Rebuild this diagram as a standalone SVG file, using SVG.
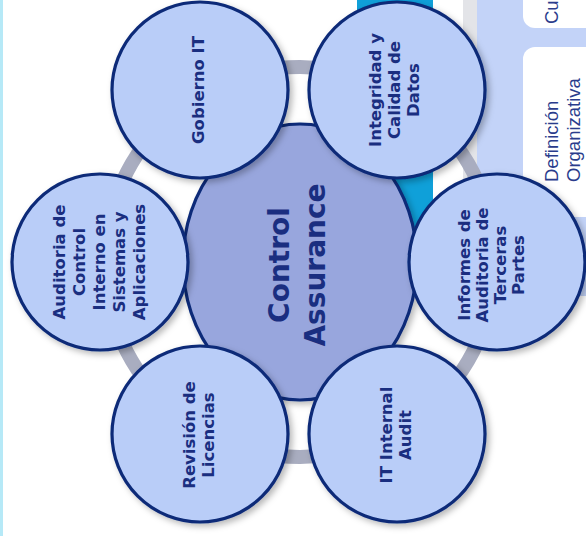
<svg xmlns="http://www.w3.org/2000/svg" width="586" height="536" viewBox="0 0 586 536">
<defs>
<filter id="sh" x="-20%" y="-20%" width="140%" height="140%">
<feDropShadow dx="3" dy="3" stdDeviation="3" flood-color="#000" flood-opacity="0.28"/>
</filter>
<style>
.sat{fill:#b9cdf8;stroke:#0b2a78;stroke-width:3.2;filter:url(#sh)}
.core{fill:#98a6dd;stroke:#0b2a78;stroke-width:3.2;filter:url(#sh)}
.t{font-family:"DejaVu Sans",sans-serif;font-weight:bold;font-size:16.5px;fill:#1a2e80;text-anchor:middle}
.big{font-family:"DejaVu Sans",sans-serif;font-weight:bold;font-size:28px;fill:#1a2e80;text-anchor:middle}
.p{font-family:"Liberation Sans",Arial,sans-serif;font-size:18.5px;fill:#2a3c8c}
</style>
</defs>
<rect width="586" height="536" fill="#ffffff"/>
<rect x="0" y="0" width="3" height="536" fill="#b6e9f7"/>
<g id="backdrop">
<rect x="357" y="0" width="76" height="260" fill="#0fa0d9"/>
<rect x="463" y="0" width="14" height="300" fill="#e3e4e8"/>
<rect x="477" y="-20" width="130" height="316" rx="10" fill="#c3d3f8"/>
<rect x="523" y="-30" width="90" height="58" rx="12" fill="#ffffff"/>
<rect x="523" y="47" width="90" height="170" rx="12" fill="#ffffff"/>
<text class="p" transform="translate(558,24) rotate(-90)">Cu</text>
<text class="p" transform="translate(558,182) rotate(-90)">Definición</text>
<text class="p" transform="translate(580,182) rotate(-90)">Organizativa</text>
</g>
<g id="connectors">
<circle cx="300" cy="262" r="195" fill="none" stroke="#a9adc0" stroke-width="14"/>
</g>
<g id="core">
<ellipse class="core" cx="300" cy="262" rx="117" ry="138"/>
<g transform="translate(300,265) rotate(-90)">
<text class="big" x="0" y="-11">Control</text>
<text class="big" x="0" y="25">Assurance</text>
</g>
</g>
<g id="gobierno">
<circle class="sat" cx="200" cy="90" r="88"/>
<g transform="translate(200,90) rotate(-90)"><text class="t" x="0" y="4">Gobierno IT</text></g>
</g>
<g id="integridad">
<circle class="sat" cx="397" cy="90" r="88"/>
<g transform="translate(397,90) rotate(-90)">
<text class="t" x="0" y="-16">Integridad y</text>
<text class="t" x="0" y="3">Calidad de</text>
<text class="t" x="0" y="22">Datos</text>
</g>
</g>
<g id="auditoria">
<circle class="sat" cx="100" cy="262" r="88"/>
<g transform="translate(100,262) rotate(-90)">
<text class="t" x="0" y="-35">Auditoria de</text>
<text class="t" x="0" y="-15">Control</text>
<text class="t" x="0" y="5">Interno en</text>
<text class="t" x="0" y="25">Sistemas y</text>
<text class="t" x="0" y="45">Aplicaciones</text>
</g>
</g>
<g id="informes">
<circle class="sat" cx="497" cy="262" r="88"/>
<g transform="translate(497,265) rotate(-90)">
<text class="t" x="0" y="-27">Informes de</text>
<text class="t" x="0" y="-9">Auditoria de</text>
<text class="t" x="0" y="9">Terceras</text>
<text class="t" x="0" y="27">Partes</text>
</g>
</g>
<g id="revision">
<circle class="sat" cx="200" cy="434" r="88"/>
<g transform="translate(200,435) rotate(-90)">
<text class="t" x="0" y="-5">Revisión de</text>
<text class="t" x="0" y="14">Licencias</text>
</g>
</g>
<g id="itaudit">
<circle class="sat" cx="397" cy="434" r="88"/>
<g transform="translate(397,435) rotate(-90)">
<text class="t" x="0" y="-5">IT Internal</text>
<text class="t" x="0" y="14">Audit</text>
</g>
</g>
</svg>
